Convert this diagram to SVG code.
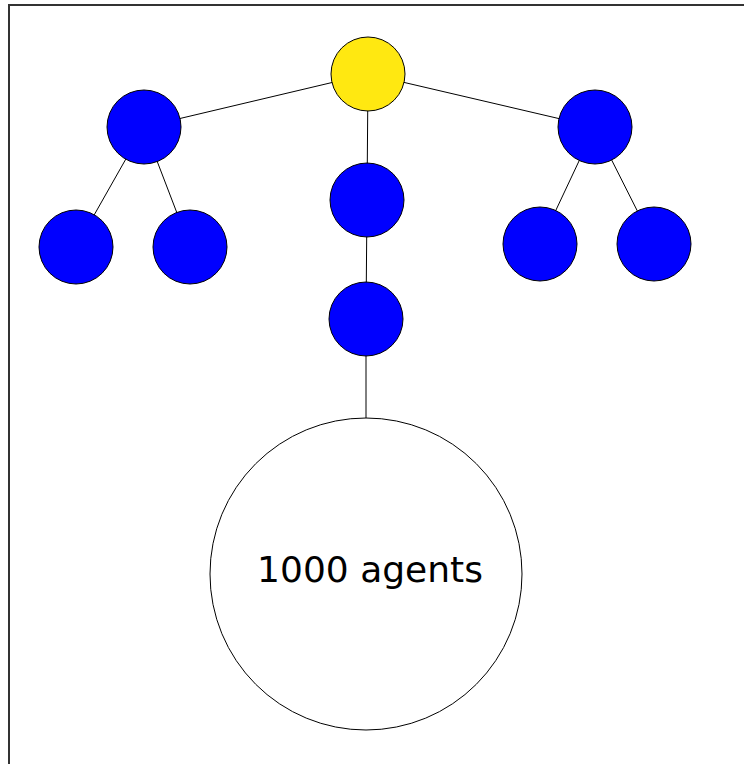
<svg xmlns="http://www.w3.org/2000/svg" width="744" height="764" viewBox="0 0 744 764">
  <style>
    .edge { stroke: #000; stroke-width: 1; fill: none; }
    .node { stroke: #000; stroke-width: 1; }
    .agent { fill: #0000ff; }
    .root { fill: #ffe811; }
    .pool { fill: #fff; }
    .label { font-family: "DejaVu Sans", sans-serif; font-size: 36px; fill: #000; }
  </style>
  <rect x="0" y="0" width="744" height="764" fill="#fff"/>
  <rect x="9" y="5" width="760" height="790" fill="none" stroke="#333" stroke-width="2"/>
  <g id="connectors">
    <line class="edge" x1="368" y1="74" x2="144" y2="127"/>
    <line class="edge" x1="368" y1="74" x2="595" y2="127"/>
    <line class="edge" x1="368" y1="74" x2="367" y2="200"/>
    <line class="edge" x1="367" y1="200" x2="366" y2="319"/>
    <line class="edge" x1="366" y1="319" x2="366" y2="574"/>
    <line class="edge" x1="144" y1="127" x2="76" y2="247"/>
    <line class="edge" x1="144" y1="127" x2="190" y2="247"/>
    <line class="edge" x1="595" y1="127" x2="540" y2="244"/>
    <line class="edge" x1="595" y1="127" x2="654" y2="244"/>
  </g>
  <g id="root"><circle class="node root" cx="368" cy="74" r="37"/></g>
  <g id="left"><circle class="node agent" cx="144" cy="127" r="37"/></g>
  <g id="right"><circle class="node agent" cx="595" cy="127" r="37"/></g>
  <g id="mid1"><circle class="node agent" cx="367" cy="200" r="37"/></g>
  <g id="mid2"><circle class="node agent" cx="366" cy="319" r="37"/></g>
  <g id="left-a"><circle class="node agent" cx="76" cy="247" r="37"/></g>
  <g id="left-b"><circle class="node agent" cx="190" cy="247" r="37"/></g>
  <g id="right-a"><circle class="node agent" cx="540" cy="244" r="37"/></g>
  <g id="right-b"><circle class="node agent" cx="654" cy="244" r="37"/></g>
  <g id="pool">
    <circle class="node pool" cx="366" cy="574" r="156"/>
    <text class="label" x="370" y="582" text-anchor="middle">1000 agents</text>
  </g>
</svg>
